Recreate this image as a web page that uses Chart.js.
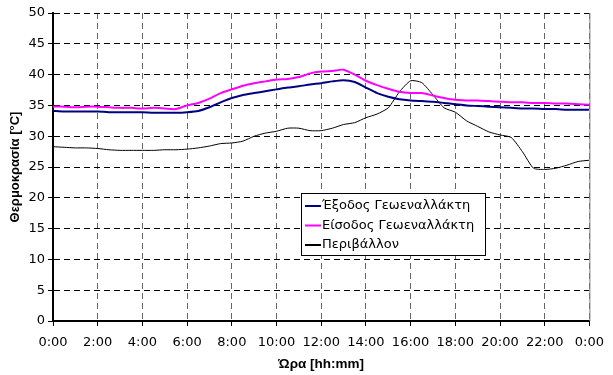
<!DOCTYPE html>
<html>
<head>
<meta charset="utf-8">
<script src="https://cdn.jsdelivr.net/npm/chart.js@4.4.0/dist/chart.umd.min.js"></script>
<style>
  html, body { margin: 0; padding: 0; background: #fff; }
  #wrap { width: 613px; height: 375px; }
</style>
</head>
<body>
<div id="wrap"><canvas id="temp-chart" width="613" height="375"></canvas></div>
<script>
    "use strict";

    // Hours of the day (half-hour steps)
    var hours = [0, 0.5, 1, 1.5, 2, 2.5, 3, 3.5, 4, 4.5, 5, 5.5, 6, 6.5, 7, 7.5, 8, 8.5, 9, 9.5,
        10, 10.5, 11, 11.5, 12, 12.5, 13, 13.5, 14, 14.5, 15, 15.5, 16, 16.5, 17, 17.5, 18, 18.5, 19, 19.5,
        20, 20.5, 21, 21.5, 22, 22.5, 23, 23.5, 24];

    // Έξοδος Γεωεναλλάκτη
    var outletTemp = [34.1, 34.0, 34.0, 34.0, 34.0, 33.9, 33.9, 33.9, 33.9, 33.8, 33.8, 33.8, 33.9, 34.1, 34.7, 35.5, 36.2, 36.7, 37.0, 37.3,
        37.6, 37.9, 38.1, 38.4, 38.6, 38.9, 39.1, 38.8, 37.9, 37.0, 36.4, 36.0, 35.8, 35.7, 35.6, 35.4, 35.2, 35.0, 34.9, 34.8,
        34.7, 34.6, 34.5, 34.5, 34.4, 34.4, 34.3, 34.3, 34.3];

    // Είσοδος Γεωεναλλάκτη
    var inletTemp = [34.8, 34.8, 34.7, 34.8, 34.8, 34.7, 34.6, 34.6, 34.5, 34.6, 34.5, 34.4, 35.0, 35.4, 36.1, 37.0, 37.6, 38.2, 38.6, 38.9,
        39.2, 39.3, 39.6, 40.2, 40.5, 40.6, 40.8, 40.0, 39.0, 38.3, 37.7, 37.2, 37.0, 37.0, 36.6, 36.2, 35.9, 35.8, 35.8, 35.7,
        35.6, 35.5, 35.5, 35.4, 35.4, 35.3, 35.3, 35.2, 35.1];

    // Περιβάλλον
    var ambientTemp = [28.3, 28.2, 28.1, 28.1, 28.0, 27.8, 27.7, 27.7, 27.7, 27.7, 27.8, 27.8, 27.9, 28.1, 28.4, 28.8, 28.9, 29.2, 30.0, 30.5,
        30.8, 31.3, 31.3, 30.9, 30.9, 31.3, 31.9, 32.2, 33.0, 33.6, 34.6, 37.2, 39.0, 38.7, 36.7, 34.6, 33.9, 32.5, 31.6, 30.7,
        30.2, 29.8, 27.5, 24.8, 24.6, 24.8, 25.3, 25.9, 26.1];

    var seriesLabels = ["Έξοδος Γεωεναλλάκτη", "Είσοδος Γεωεναλλάκτη", "Περιβάλλον"];

    function toPoints(values) {
        return hours.map(function (h, i) { return { x: h, y: values[i] }; });
    }

    var FONT = "'DejaVu Sans', sans-serif";
    var TITLE_FONT = "'Liberation Sans', Arial, sans-serif";

    // Legend box drawn inside the plot, plus solid right border
    var boxLegend = {
        id: "boxLegend",
        afterDraw: function (chart) {
            var ctx = chart.ctx;
            var area = chart.chartArea;

            ctx.save();
            ctx.strokeStyle = "#808080";
            ctx.lineWidth = 1;
            ctx.beginPath();
            ctx.moveTo(area.right + 0.5, area.top);
            ctx.lineTo(area.right + 0.5, area.bottom);
            ctx.stroke();

            var x = 301.5, y = 193.5, w = 184, h = 62;
            ctx.fillStyle = "#fff";
            ctx.fillRect(x, y, w, h);
            ctx.strokeStyle = "#000";
            ctx.strokeRect(x, y, w, h);

            ctx.font = "13px " + FONT;
            ctx.textBaseline = "middle";
            ctx.textAlign = "left";
            chart.data.datasets.forEach(function (ds, i) {
                var ly = 206 + i * 19.5;
                ctx.strokeStyle = ds.borderColor;
                ctx.lineWidth = 2;
                ctx.beginPath();
                ctx.moveTo(305, ly);
                ctx.lineTo(321, ly);
                ctx.stroke();
                ctx.fillStyle = "#000";
                ctx.fillText(ds.label, 322, ly);
            });
            ctx.restore();
        }
    };

    var ctx1 = document.getElementById("temp-chart").getContext("2d");
    var tempChart = new Chart(ctx1, {
        type: "line",
        data: {
            datasets: [{
                label: seriesLabels[0],
                data: toPoints(outletTemp),
                borderColor: "#000080",
                borderWidth: 2
            },
            {
                label: seriesLabels[1],
                data: toPoints(inletTemp),
                borderColor: "#FF00FF",
                borderWidth: 2
            },
            {
                label: seriesLabels[2],
                data: toPoints(ambientTemp),
                borderColor: "#000000",
                borderWidth: 1
            }]
        },
        options: {
            responsive: false,
            animation: false,
            events: [],
            elements: { point: { radius: 0 }, line: { tension: 0.2 } },
            layout: { padding: { top: 13, right: 15, left: 0, bottom: 0 } },
            plugins: {
                legend: { display: false },
                tooltip: { enabled: false }
            },
            scales: {
                x: {
                    type: "linear",
                    min: 0,
                    max: 24,
                    afterFit: function (scale) { scale.height = 54; },
                    ticks: {
                        stepSize: 2,
                        color: "#000",
                        padding: 9,
                        maxRotation: 0,
                        font: { family: FONT, size: 13 },
                        callback: function (v) { return (v % 24) + ":00"; }
                    },
                    grid: { color: "#666", tickColor: "#000", tickLength: 5, lineWidth: 1 },
                    border: { color: "#000", width: 2, dash: [6, 4] },
                    title: {
                        display: true,
                        text: "Ώρα [hh:mm]",
                        color: "#000",
                        padding: { top: 0, bottom: 3 },
                        font: { family: TITLE_FONT, size: 13.5, weight: "bold" }
                    }
                },
                y: {
                    min: 0,
                    max: 50,
                    afterFit: function (scale) { scale.width = 53; },
                    ticks: {
                        stepSize: 5,
                        color: "#000",
                        padding: 3,
                        font: { family: FONT, size: 13 }
                    },
                    grid: { color: "#000", tickColor: "#000", tickLength: 5, lineWidth: 1 },
                    border: { color: "#000", width: 2, dash: [6, 4] },
                    title: {
                        display: true,
                        text: "Θερμοκρασία [°C]",
                        color: "#000",
                        padding: { top: 8, bottom: 0 },
                        font: { family: TITLE_FONT, size: 13, weight: "bold" }
                    }
                }
            }
        },
        plugins: [boxLegend]
    });
</script>
</body>
</html>
